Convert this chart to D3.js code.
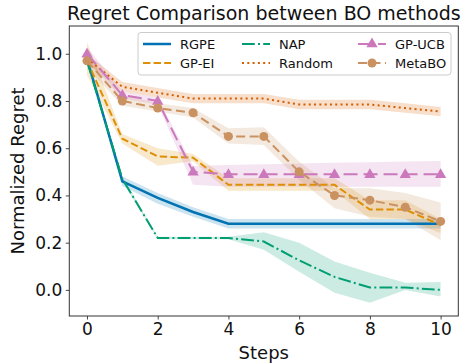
<!DOCTYPE html>
<html><head><meta charset="utf-8">
<script src="https://cdn.jsdelivr.net/npm/d3@7"></script>
<style>body{margin:0;background:#fff}svg{display:block;font-family:"DejaVu Sans",sans-serif}</style>
</head><body><svg id="c" width="468" height="364"></svg>
<script>
const steps = [0,1,2,3,4,5,6,7,8,9,10];
const xTicks = [0,2,4,6,8,10];
const yTicks = [0.0,0.2,0.4,0.6,0.8,1.0];
const seriesNames = ["RGPE","GP-EI","NAP","Random","GP-UCB","MetaBO"];

const rgpeMean = [0.98,0.46,0.39,0.33,0.28,0.28,0.28,0.28,0.28,0.28,0.28];
const rgpeLo   = [0.97,0.44,0.365,0.31,0.26,0.26,0.26,0.26,0.26,0.26,0.26];
const rgpeHi   = [0.99,0.48,0.41,0.35,0.30,0.30,0.30,0.30,0.30,0.30,0.30];

const gpeiMean = [0.97,0.64,0.565,0.56,0.445,0.445,0.445,0.445,0.34,0.34,0.275];
const gpeiLo   = [0.91,0.62,0.526,0.545,0.42,0.42,0.42,0.42,0.30,0.30,0.24];
const gpeiHi   = [1.05,0.66,0.60,0.575,0.473,0.473,0.473,0.473,0.38,0.38,0.30];

const napMean = [0.97,0.47,0.22,0.22,0.22,0.205,0.125,0.055,0.01,0.01,0.0];
const napLo   = [0.96,0.46,0.215,0.215,0.215,0.17,0.077,-0.012,-0.054,0.0,-0.028];
const napHi   = [0.98,0.48,0.225,0.225,0.225,0.244,0.20,0.12,0.073,0.03,0.033];

const randMean = [0.98,0.86,0.835,0.81,0.81,0.81,0.785,0.785,0.785,0.77,0.755];
const randLo   = [0.96,0.84,0.815,0.79,0.79,0.79,0.765,0.765,0.765,0.75,0.735];
const randHi   = [1.00,0.88,0.855,0.83,0.83,0.83,0.805,0.805,0.805,0.79,0.775];

const ucbMean = [1.0,0.825,0.80,0.50,0.49,0.49,0.49,0.49,0.49,0.49,0.49];
const ucbLo   = [0.97,0.81,0.785,0.445,0.437,0.437,0.437,0.437,0.437,0.437,0.437];
const ucbHi   = [1.03,0.84,0.815,0.525,0.529,0.532,0.535,0.538,0.541,0.544,0.546];

const metaMean = [0.97,0.80,0.77,0.75,0.65,0.65,0.50,0.40,0.38,0.35,0.29];
const metaLo   = [0.94,0.78,0.755,0.73,0.62,0.614,0.465,0.346,0.31,0.30,0.21];
const metaHi   = [1.00,0.825,0.79,0.77,0.684,0.689,0.543,0.43,0.43,0.41,0.37];

const colors = ["#0173b2","#de8f05","#029e73","#d55e00","#cc78bc","#ca9161"];
const dashes = [null,"7.4,3.2","12.8,3.2,2,3.2","2,3.3","14,6","9,4.5"];
const markers = [null,null,null,null,"triangle","circle"];

const series = [
  {name:seriesNames[0],mean:rgpeMean,lo:rgpeLo,hi:rgpeHi},
  {name:seriesNames[1],mean:gpeiMean,lo:gpeiLo,hi:gpeiHi},
  {name:seriesNames[2],mean:napMean,lo:napLo,hi:napHi},
  {name:seriesNames[3],mean:randMean,lo:randLo,hi:randHi},
  {name:seriesNames[4],mean:ucbMean,lo:ucbLo,hi:ucbHi},
  {name:seriesNames[5],mean:metaMean,lo:metaLo,hi:metaHi}
];

const L=69.3,R=458.3,T=26,B=316;
const x = d3.scaleLinear().domain([-0.5,10.5]).range([L,R]);
const y = d3.scaleLinear().domain([-0.1105,1.1175]).range([B,T]);
const svg = d3.select("#c");

svg.append("clipPath").attr("id","clip").append("rect").attr("x",L).attr("y",T).attr("width",R-L).attr("height",B-T);
const g = svg.append("g").attr("clip-path","url(#clip)");

// bands
series.forEach((s,i)=>{
  const area = d3.area().x((d,j)=>x(steps[j])).y0((d,j)=>y(s.lo[j])).y1((d,j)=>y(s.hi[j]));
  g.append("path").datum(s.mean).attr("d",area).attr("fill",colors[i]).attr("fill-opacity",0.2).attr("stroke","none");
});
// lines
series.forEach((s,i)=>{
  const line = d3.line().x((d,j)=>x(steps[j])).y(d=>y(d));
  g.append("path").datum(s.mean).attr("d",line).attr("fill","none").attr("stroke",colors[i])
    .attr("stroke-width",i===0?2.5:2).attr("stroke-dasharray",dashes[i]);
  if(markers[i]){
    const sym = d3.symbol().type(markers[i]==="triangle"?d3.symbolTriangle:d3.symbolCircle).size(markers[i]==="triangle"?55:64);
    g.selectAll(null).data(s.mean).enter().append("path").attr("d",sym)
      .attr("transform",(d,j)=>`translate(${x(steps[j])},${y(d)+(markers[i]==="triangle"?0.5:0)})`)
      .attr("fill",colors[i]);
  }
});

// axes
const xa = svg.append("g").attr("transform",`translate(0,${B})`).call(d3.axisBottom(x).tickValues(xTicks).tickSize(3.5).tickPadding(3.5).tickFormat(d3.format("d")));
const ya = svg.append("g").attr("transform",`translate(${L},0)`).call(d3.axisLeft(y).tickValues(yTicks).tickSize(3.5).tickPadding(3.5).tickFormat(d3.format(".1f")));
[xa,ya].forEach(a=>{a.select(".domain").remove();a.selectAll("line").attr("stroke","#333").attr("stroke-width",0.9);
  a.selectAll("text").attr("font-size",17).attr("fill","#111").attr("font-family","DejaVu Sans");});
svg.append("rect").attr("x",L).attr("y",T).attr("width",R-L).attr("height",B-T).attr("fill","none").attr("stroke","#333").attr("stroke-width",1);

// title & labels
svg.append("text").attr("x",(L+R)/2).attr("y",20).attr("text-anchor","middle").attr("font-size",19).attr("fill","#111").text("Regret Comparison between BO methods");
svg.append("text").attr("x",(L+R)/2).attr("y",359).attr("text-anchor","middle").attr("font-size",18).attr("fill","#111").text("Steps");
svg.append("text").attr("transform",`translate(24,${(T+B)/2}) rotate(-90)`).attr("text-anchor","middle").attr("font-size",18).attr("fill","#111").text("Normalized Regret");

// legend
const lg = svg.append("g");
lg.append("rect").attr("x",138).attr("y",32.5).attr("width",313).attr("height",42.5).attr("rx",3)
  .attr("fill","#fff").attr("fill-opacity",0.8).attr("stroke","#ccc").attr("stroke-width",1);
const colX=[143,242,358], rowY=[44,63];
const order=[0,2,4,1,3,5];
order.forEach((si,k)=>{
  const cx=colX[k%3], cy=rowY[Math.floor(k/3)];
  lg.append("line").attr("x1",cx).attr("x2",cx+28).attr("y1",cy).attr("y2",cy).attr("stroke",colors[si])
    .attr("stroke-width",si===0?2.5:2).attr("stroke-dasharray",dashes[si]);
  if(markers[si]){
    const sym = d3.symbol().type(markers[si]==="triangle"?d3.symbolTriangle:d3.symbolCircle).size(markers[si]==="triangle"?55:64);
    lg.append("path").attr("d",sym).attr("transform",`translate(${cx+14},${cy})`).attr("fill",colors[si]);
  }
  lg.append("text").attr("x",cx+37).attr("y",cy+4.7).attr("font-size",13).attr("fill","#111").text(seriesNames[si]);
});
</script></body></html>
